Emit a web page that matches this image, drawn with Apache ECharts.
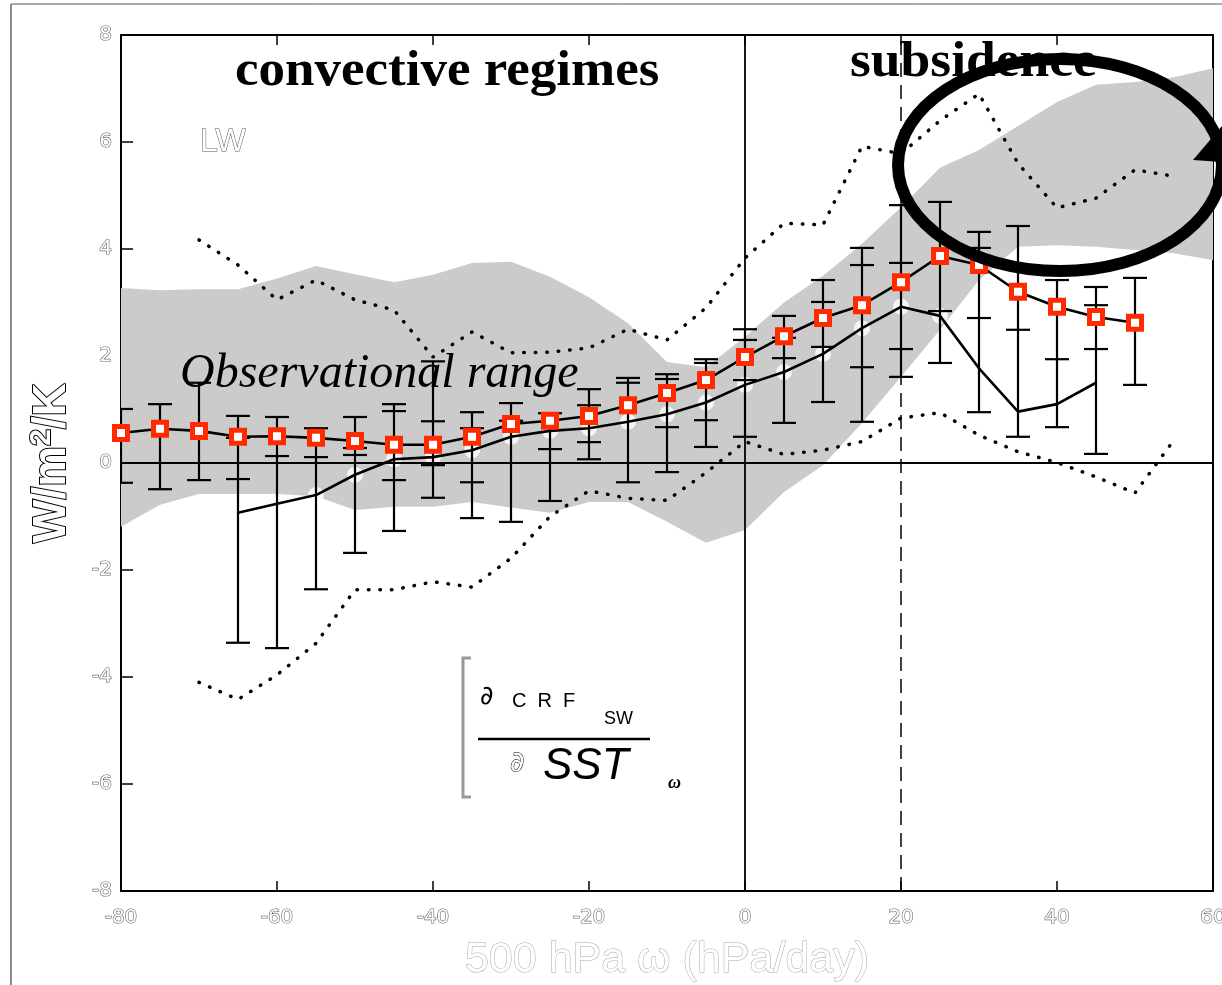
<!DOCTYPE html>
<html>
<head>
<meta charset="utf-8">
<script src="https://cdn.jsdelivr.net/npm/echarts@6.0.0/dist/echarts.min.js"></script>
<style>
html, body { margin: 0; padding: 0; background: #fff; }
#chart { width: 1222px; height: 985px; }
</style>
</head>
<body>
<div id="chart"></div>
<script>
// model composite: x = 500 hPa omega (hPa/day)
var modelX = [-80, -75, -70, -65, -60, -55, -50, -45, -40, -35, -30, -25, -20, -15, -10, -5, 0, 5, 10, 15, 20, 25, 30, 35, 40, 45, 50];
var squareVals = [0.56, 0.64, 0.60, 0.49, 0.50, 0.47, 0.41, 0.34, 0.34, 0.49, 0.73, 0.79, 0.88, 1.08, 1.31, 1.55, 1.98, 2.37, 2.71, 2.95, 3.38, 3.87, 3.70, 3.20, 2.92, 2.73, 2.62];

// error bars (outer range and inner caps), same x as modelX
var errLow    = [-0.37, -0.49, -0.32, -3.36, -3.46, -2.36, -1.68, -1.27, -0.65, -1.03, -1.10, -0.71, 0.07, -0.36, -0.17, 0.30, 0.49, 0.75, 1.14, 0.77, 1.61, 1.87, 0.95, 0.49, 0.67, 0.17, 1.46];
var errHigh   = [1.01, 1.10, 1.50, 0.88, 0.86, 0.65, 0.86, 1.10, 1.90, 0.95, 1.12, 0.93, 1.38, 1.59, 1.66, 1.94, 2.50, 2.75, 3.42, 4.02, 4.82, 4.88, 4.32, 4.43, 3.42, 3.29, 3.46];
var errInLow  = [null, null, null, -0.30, 0.13, 0.11, 0.15, -0.32, -0.04, -0.36, null, 0.26, 0.39, null, 0.67, 0.80, 1.55, 1.96, 2.17, 1.79, 2.13, 2.84, 2.71, 2.49, 1.94, 2.13, null];
var errInHigh = [null, null, null, 0.47, null, null, 0.28, 0.97, 0.78, 0.65, 0.79, null, 1.08, 1.50, 1.57, 1.87, 2.30, 2.34, 3.01, 3.70, 3.74, null, 4.02, null, null, 2.95, null];

// second model line (white circles)
var lineX = [-65, -60, -55, -50, -45, -40, -35, -30, -25, -20, -15, -10, -5, 0, 5, 10, 15, 20, 25, 30, 35, 40, 45];
var lineVals = [-0.93, -0.76, -0.60, -0.22, 0.07, 0.11, 0.24, 0.49, 0.60, 0.65, 0.77, 0.91, 1.13, 1.46, 1.70, 2.04, 2.52, 2.92, 2.75, 1.77, 0.96, 1.10, 1.50];

// dotted envelopes
var dotX = [-70, -65, -60, -55, -50, -45, -40, -35, -30, -25, -20, -15, -10, -5, 0, 5, 10, 15, 20, 25, 30, 35, 40, 45, 50, 55];
var dotUpper = [4.17, 3.70, 3.05, 3.42, 3.05, 2.86, 1.98, 2.45, 2.06, 2.07, 2.15, 2.50, 2.30, 2.90, 3.83, 4.48, 4.45, 5.92, 5.78, 6.40, 6.90, 5.60, 4.77, 4.95, 5.48, 5.36];
var dotLower = [-4.10, -4.42, -3.96, -3.37, -2.37, -2.37, -2.22, -2.32, -1.78, -1.00, -0.52, -0.66, -0.70, -0.18, 0.40, 0.16, 0.24, 0.40, 0.84, 0.94, 0.52, 0.21, 0.01, -0.26, -0.56, 0.43];

// observational range (grey band)
var bandX = [-80, -75, -70, -65, -60, -55, -50, -45, -40, -35, -30, -25, -20, -15, -10, -5, 0, 5, 10, 15, 20, 25, 30, 35, 40, 45, 50, 55, 60];
var bandUpper = [3.27, 3.23, 3.25, 3.25, 3.45, 3.68, 3.53, 3.38, 3.52, 3.74, 3.76, 3.48, 3.10, 2.61, 1.89, 1.79, 2.36, 3.00, 3.50, 4.10, 4.78, 5.52, 5.85, 6.30, 6.75, 7.07, 7.12, 7.21, 7.38];
var bandLower = [-1.19, -0.78, -0.58, -0.58, -0.58, -0.62, -0.88, -0.82, -0.82, -0.73, -0.83, -0.93, -0.73, -0.73, -1.10, -1.49, -1.25, -0.54, -0.04, 0.75, 1.61, 2.49, 3.42, 4.04, 4.07, 4.04, 3.98, 3.92, 3.79];

function pairs(xs, ys) {
  return xs.map(function (x, i) { return [x, ys[i]]; });
}

var hollow = {
  color: '#fff',
  textBorderColor: '#666',
  textBorderWidth: 1.2,
  fontFamily: 'DejaVu Sans',
  fontSize: 20
};

function renderBand(params, api) {
  if (params.dataIndex !== 0) return null;
  var pts = [];
  for (var i = 0; i < bandX.length; i++) pts.push(api.coord([bandX[i], bandUpper[i]]));
  for (var j = bandX.length - 1; j >= 0; j--) pts.push(api.coord([bandX[j], bandLower[j]]));
  return { type: 'polygon', shape: { points: pts }, style: { fill: '#cbcbcb' } };
}

function renderErr(params, api) {
  var i = params.dataIndex;
  var x = modelX[i];
  var lo = api.coord([x, errLow[i]]);
  var hi = api.coord([x, errHigh[i]]);
  var half = 12;
  var st = { stroke: '#000', lineWidth: 2.2 };
  var kids = [{ type: 'line', shape: { x1: lo[0], y1: lo[1], x2: hi[0], y2: hi[1] }, style: st }];
  [errLow[i], errHigh[i], errInLow[i], errInHigh[i]].forEach(function (v) {
    if (v === null) return;
    var p = api.coord([x, v]);
    kids.push({ type: 'line', shape: { x1: p[0] - half, y1: p[1], x2: p[0] + half, y2: p[1] }, style: st });
  });
  return { type: 'group', children: kids };
}

var chart = echarts.init(document.getElementById('chart'));

var frameLine = { onZero: false, lineStyle: { color: '#000', width: 2 } };

var option = {
  animation: false,
  backgroundColor: '#fff',
  grid: { left: 121, right: 9, top: 35, bottom: 94, containLabel: false, outerBoundsMode: 'none' },
  xAxis: [{
    type: 'value', min: -80, max: 60, interval: 20, position: 'bottom',
    axisLine: frameLine,
    axisTick: { inside: true, length: 10, lineStyle: { color: '#000', width: 1.5 } },
    axisLabel: Object.assign({ margin: 17 }, hollow),
    splitLine: { show: false },
    name: '500 hPa \u03c9 (hPa/day)',
    nameLocation: 'middle',
    nameGap: 48,
    nameTextStyle: { fontSize: 43, fontFamily: 'Liberation Sans', color: '#fff', textBorderColor: '#a8a8a8', textBorderWidth: 1 }
  }, {
    type: 'value', min: -80, max: 60, interval: 20, position: 'top',
    axisLine: frameLine,
    axisTick: { inside: true, length: 10, lineStyle: { color: '#000', width: 1.5 } },
    axisLabel: { show: false },
    splitLine: { show: false }
  }],
  yAxis: [{
    type: 'value', min: -8, max: 8, interval: 2, position: 'left',
    axisLine: frameLine,
    axisTick: { inside: true, length: 12, lineStyle: { color: '#000', width: 1.5 } },
    axisLabel: Object.assign({ margin: 9 }, hollow),
    splitLine: { show: false },
    name: 'W/m{sup|2}/K',
    nameLocation: 'middle',
    nameGap: 44,
    nameRotate: 90,
    nameTextStyle: {
      fontSize: 46, fontWeight: 'bold', fontFamily: 'Liberation Sans',
      color: '#fff', textBorderColor: '#000', textBorderWidth: 2,
      rich: { sup: { fontSize: 30, fontWeight: 'bold', fontFamily: 'Liberation Sans', color: '#fff', textBorderColor: '#000', textBorderWidth: 2, verticalAlign: 'top', padding: [0, 0, 20, 0] } }
    }
  }, {
    type: 'value', min: -8, max: 8, interval: 2, position: 'right',
    axisLine: frameLine,
    axisTick: { show: false },
    axisLabel: { show: false },
    splitLine: { show: false }
  }],
  series: [
    {
      name: 'Observational range', type: 'custom', clip: true, z: 1, silent: true,
      data: pairs(bandX, bandUpper),
      encode: { x: 0, y: 1 },
      renderItem: renderBand
    },
    {
      name: 'circles', type: 'scatter', data: pairs(lineX, lineVals), z: 2,
      symbol: 'circle', symbolSize: 16, itemStyle: { color: '#fff' }, silent: true
    },
    {
      name: 'upper dotted', type: 'line', data: pairs(dotX, dotUpper), showSymbol: false, z: 3,
      lineStyle: { color: '#000', width: 3.5, type: [0.5, 11], cap: 'round' }
    },
    {
      name: 'lower dotted', type: 'line', data: pairs(dotX, dotLower), showSymbol: false, z: 3,
      lineStyle: { color: '#000', width: 3.5, type: [0.5, 11], cap: 'round' },
      markLine: {
        silent: true, symbol: 'none', label: { show: false },
        data: [
          { yAxis: 0, lineStyle: { color: '#000', width: 1.8, type: 'solid' } },
          { xAxis: 0, lineStyle: { color: '#000', width: 1.8, type: 'solid' } },
          { xAxis: 20, lineStyle: { color: '#000', width: 1.5, type: [14, 8] } }
        ]
      }
    },
    {
      name: 'errors', type: 'custom', clip: true, z: 4,
      data: modelX.map(function (x, i) { return [x, errLow[i], errHigh[i]]; }),
      encode: { x: 0, y: [1, 2] },
      renderItem: renderErr
    },
    {
      name: 'model line', type: 'line', data: pairs(lineX, lineVals), showSymbol: false, z: 5,
      lineStyle: { color: '#000', width: 2.6 }
    },
    {
      name: 'model squares', type: 'line', data: pairs(modelX, squareVals), z: 6,
      symbol: 'rect', symbolSize: 13, showAllSymbol: true,
      lineStyle: { color: '#000', width: 2.6 },
      itemStyle: { color: '#fff', borderColor: '#ff2a00', borderWidth: 5 }
    }
  ],
  graphic: [
    { type: 'line', shape: { x1: 11, y1: 4, x2: 11, y2: 985 }, style: { stroke: '#8c8c8c', lineWidth: 2 } },
    { type: 'line', shape: { x1: 11, y1: 4, x2: 1222, y2: 4 }, style: { stroke: '#555', lineWidth: 1 } },
    { type: 'text', x: 235, y: 47, scaleX: 1.06, z: 50, style: { text: 'convective regimes', font: 'bold 50px "Liberation Serif"', fill: '#000' } },
    { type: 'text', x: 850, y: 38, scaleX: 1.07, z: 50, style: { text: 'subsidence', font: 'bold 50px "Liberation Serif"', fill: '#000' } },
    { type: 'text', x: 180, y: 350, z: 50, style: { text: 'Observational range', font: 'italic 48px "Liberation Serif"', fill: '#000' } },
    { type: 'text', x: 200, y: 126, z: 50, style: { text: 'LW', font: '32px "Liberation Sans"', fill: '#fff', stroke: '#555', lineWidth: 1 } },
    // formula box
    { type: 'polyline', z: 50, shape: { points: [[471, 658], [463, 658], [463, 797], [471, 797]] }, style: { stroke: '#999', lineWidth: 3, fill: 'none' } },
    { type: 'text', x: 480, y: 684, z: 50, style: { text: '\u2202', font: '26px "DejaVu Sans"', fill: '#000' } },
    { type: 'text', x: 512, y: 691, z: 50, style: { text: 'C  R  F', font: '20px "Liberation Sans"', fill: '#000' } },
    { type: 'text', x: 604, y: 710, z: 50, style: { text: 'SW', font: '18px "Liberation Sans"', fill: '#000' } },
    { type: 'line', z: 50, shape: { x1: 478, y1: 739, x2: 650, y2: 739 }, style: { stroke: '#000', lineWidth: 2.5 } },
    { type: 'text', x: 510, y: 750, z: 50, style: { text: '\u2202', font: '28px "DejaVu Sans"', fill: '#fff', stroke: '#000', lineWidth: 1 } },
    { type: 'text', x: 543, y: 745, z: 50, style: { text: 'SST', font: 'italic 44px "Liberation Sans"', fill: '#000' } },
    { type: 'text', x: 668, y: 774, z: 50, style: { text: '\u03c9', font: 'italic bold 18px "Liberation Serif"', fill: '#000' } },
    // annotation ellipse with arrow head
    { type: 'ellipse', z: 60, shape: { cx: 1060, cy: 165, rx: 162, ry: 106 }, style: { fill: 'none', stroke: '#000', lineWidth: 12 } },
    { type: 'polygon', z: 61, shape: { points: [[1193, 160], [1222, 126], [1222, 162]] }, style: { fill: '#000' } }
  ]
};

chart.setOption(option);
</script>
</body>
</html>
